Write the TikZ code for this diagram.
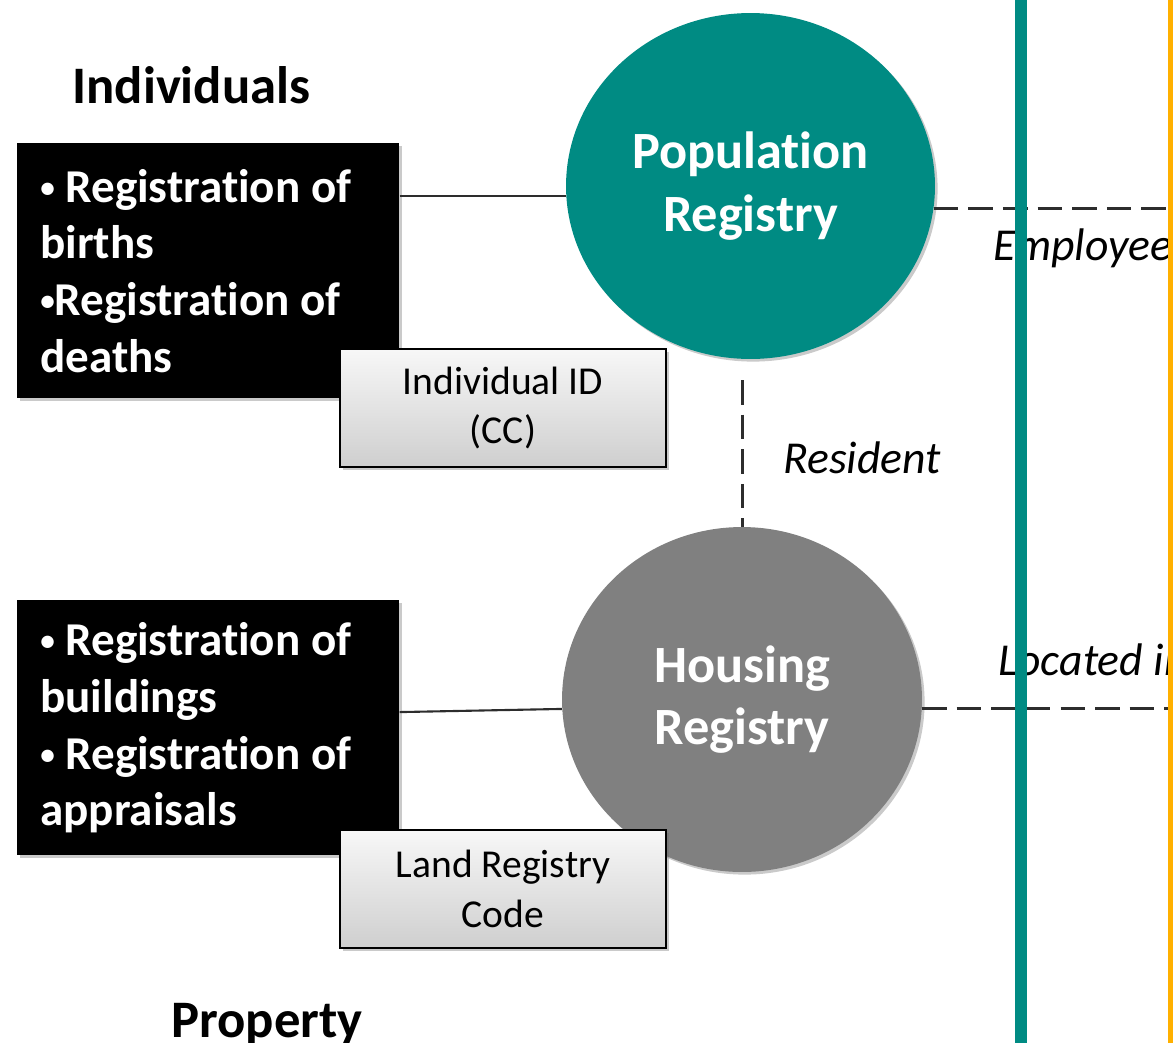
\documentclass[tikz,border=0pt]{standalone}
\usepackage{fontspec}
\usepackage{graphicx}
\setmainfont{Carlito}[Ligatures=NoCommon]
\usetikzlibrary{shapes.geometric, shadows, positioning}
\definecolor{tealReg}{RGB}{0,139,131}
\definecolor{grayReg}{RGB}{128,128,128}
\definecolor{orangeLine}{RGB}{255,176,0}
\definecolor{lineGray}{RGB}{45,45,45}
\newcommand{\taskBullet}{\raisebox{0.1em}{\scalebox{0.62}{•}}}

\begin{document}
\begin{tikzpicture}[x=0.02cm, y=-0.02cm,
    softShadow/.style={drop shadow={shadow xshift=1.5pt, shadow yshift=-1.5pt, opacity=0.35, fill=black!60}},
    taskBox/.style={rectangle, fill=black, text=white, inner sep=0pt, align=left,
        text width=6.72cm, minimum width=7.64cm, minimum height=5.1cm,
        font=\fontsize{26.8}{32.3}\selectfont\bfseries, softShadow},
    regCircle/.style={ellipse, inner sep=0pt, text=white, align=center,
        font=\fontsize{29.8}{35.7}\selectfont\bfseries, softShadow},
    codeBox/.style={rectangle, draw=black, line width=1.1pt, top color=gray!6, bottom color=gray!38,
        minimum width=6.52cm, minimum height=2.36cm, inner sep=0pt, align=center,
        font=\fontsize{22.5}{28.3}\selectfont, softShadow},
    regLink/.style={lineGray, line width=1.2pt},
    regDash/.style={lineGray, line width=1.7pt, dash pattern=on 14pt off 5.7pt},
    relLabel/.style={anchor=base west, inner sep=0pt, font=\fontsize{26}{31}\selectfont\itshape},
    execute at begin node={\spaceskip=0pt\xspaceskip=0pt\relax}]
\useasboundingbox (0,0) rectangle (1173,1042);
\clip (0,0) rectangle (1173,1042);

% headings
\node[anchor=base west, inner sep=0pt, font=\fontsize{30}{36}\selectfont\bfseries] (indivTitle) at (72,103) {Individuals};
\node[anchor=base west, inner sep=0pt, font=\fontsize{30}{36}\selectfont\bfseries] (propTitle) at (171,1037) {Property};

% task boxes
\node[taskBox, anchor=north west] (indivTasks) at (17,143) {\taskBullet{} Registration of\\births\\\taskBullet{}Registration of\\deaths};
\node[taskBox, anchor=north west] (propTasks) at (17,600) {\taskBullet{} Registration of\\buildings\\\taskBullet{} Registration of\\appraisals};

% registries
\node[regCircle, fill=tealReg, minimum width=7.38cm, minimum height=6.92cm] (popReg) at (750.5,186) {Population\\Registry};
\node[regCircle, fill=grayReg, minimum width=7.2cm, minimum height=6.9cm] (housReg) at (742,699.5) {Housing\\Registry};

% identifiers
\node[codeBox] (indivID) at (503,408) {Individual ID\\(CC)};
\node[codeBox] (landCode) at (503,889) {Land Registry\\Code};

% links
\draw[regLink] (indivTasks.east |- popReg.183) -- (popReg.183);
\draw[regLink] (propTasks.east |- housReg.184) -- (housReg.183);

\coordinate (residentTop) at (742,380);
\coordinate (rightEdge) at (1180,0);
\draw[regDash] (residentTop) -- (housReg.north);
\draw[regDash] (popReg.353) -- (popReg.353 -| rightEdge);
\draw[regDash] (housReg.357) -- (housReg.357 -| rightEdge);

\node[relLabel] (residentLbl) at (783,473) {Resident};
\node[relLabel] (employeeLbl) at (993,260) {Employee};
\node[relLabel] (locatedLbl) at (998,675) {Located in};

% columns
\draw[tealReg, line width=0.24cm] (1021,-10) -- (1021,1060);
\draw[orangeLine, line width=0.16cm] (1172,-10) -- (1172,1060);

\end{tikzpicture}
\end{document}
